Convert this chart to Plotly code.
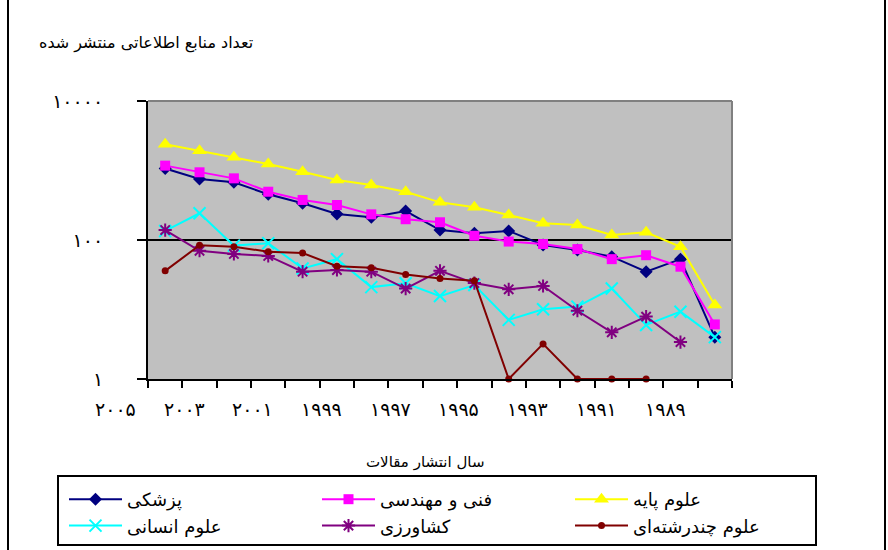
import plotly.graph_objects as go

# ---------------- data ----------------
years = list(range(2005, 1988, -1))          # 17 publication years (2005 ... 1989)
year_labels = ['۲۰۰۵', '۲۰۰۳', '۲۰۰۱', '۱۹۹۹', '۱۹۹۷', '۱۹۹۵', '۱۹۹۳', '۱۹۹۱', '۱۹۸۹']
y_tick_vals = [1, 100, 10000]
y_tick_text = ['۱', '۱۰۰', '۱۰۰۰۰']

medical = [1070, 755, 677, 454, 337, 237, 212, 261, 139, 125, 135, 85, 72, 57.5, 35, 53, 4.0]
engineering = [1175, 942, 771, 495, 377, 319, 234, 199, 180, 115, 95, 87.5, 74, 53, 60.4, 41.3, 6.1]
basic = [2380, 1930, 1550, 1240, 960, 730, 617, 495, 348, 295, 229, 174, 164, 118, 129, 80, 11.6]
humanities = [135, 242, 83, 90, 39, 53, 21, 23.8, 15.6, 22.5, 7.1, 10.1, 11, 20, 6, 9.3, 4.0]
agriculture = [139, 70, 63, 59, 35, 37, 35, 20, 36, 24, 19.5, 21.8, 9.6, 4.7, 7.9, 3.4, None]
multidisciplinary = [36, 84, 80, 68, 65, 42, 40, 32, 28, 26, 1, 3.2, 1, 1, 1, None, None]

names = ['پزشکی', 'فنی و مهندسی', 'علوم پایه', 'علوم انسانی', 'کشاورزی', 'علوم چندرشته‌ای']

# ---------------- helpers ----------------
W, H = 888, 550
FONT = 'DejaVu Sans'
PL, PR, PT, PB = 148, 732, 101, 379   # plot area in pixels


def px(v):
    return v / W


def py(v):
    return 1 - v / H


xi = list(range(len(years)))

series = [
    (medical, names[0], '#000080', dict(symbol='diamond', size=10, color='#000080')),
    (engineering, names[1], '#FF00FF', dict(symbol='square', size=10, color='#FF00FF')),
    (basic, names[2], '#FFFF00', dict(symbol='triangle-up', size=13, color='#FFFF00')),
    (humanities, names[3], '#00FFFF', dict(symbol='x-thin', size=12, color='#00FFFF',
                                         line=dict(color='#00FFFF', width=2))),
    (agriculture, names[4], '#800080', dict(symbol='asterisk', size=11, color='#800080',
                                          line=dict(color='#800080', width=2))),
    (multidisciplinary, names[5], '#800000', dict(symbol='circle', size=7, color='#800000')),
]

fig = go.Figure()
for vals, name, col, mk in series:
    fig.add_trace(go.Scatter(
        x=xi, y=vals, name=name, mode='lines+markers',
        line=dict(color=col, width=2), marker=mk,
        cliponaxis=False, connectgaps=False,
    ))

annotations = []
# category labels (every second year), shifted left as in the original
n = len(years)
for k, lab in enumerate(year_labels):
    cat = 2 * k - 1.45
    xpix = PL + (PR - PL) * (cat + 0.5) / n
    annotations.append(dict(
        x=px(xpix), y=py(409), xref='paper', yref='paper', text=lab, showarrow=False,
        font=dict(family=FONT, size=19, color='black'), xanchor='center', yanchor='middle'))

annotations.append(dict(x=px(146), y=py(43), xref='paper', yref='paper',
                        text='تعداد منابع اطلاعاتی منتشر شده', showarrow=False,
                        xanchor='center', yanchor='middle',
                        font=dict(family=FONT, size=16, color='black')))
annotations.append(dict(x=px(425), y=py(462), xref='paper', yref='paper',
                        text='سال انتشار مقالات', showarrow=False,
                        xanchor='center', yanchor='middle',
                        font=dict(family=FONT, size=15, color='black')))

shapes = [
    # grey top/right plot-area border
    dict(type='line', xref='x domain', yref='y domain', x0=0, x1=1, y0=1, y1=1,
         line=dict(color='#808080', width=2)),
    dict(type='line', xref='x domain', yref='y domain', x0=1, x1=1, y0=0, y1=1,
         line=dict(color='#808080', width=2)),
    # outer frame (vertical sides)
    dict(type='line', xref='paper', yref='paper', x0=px(8), x1=px(8), y0=0, y1=1,
         line=dict(color='black', width=2)),
    dict(type='line', xref='paper', yref='paper', x0=px(885), x1=px(885), y0=0, y1=1,
         line=dict(color='black', width=2)),
    # legend box
    dict(type='rect', xref='paper', yref='paper', x0=px(58), x1=px(816), y0=py(545), y1=py(476),
         line=dict(color='black', width=2), fillcolor='rgba(0,0,0,0)', layer='below'),
]

fig.update_layout(
    template='none',
    width=W, height=H, autosize=False,
    margin=dict(l=0, r=0, t=0, b=0, pad=0, autoexpand=False),
    paper_bgcolor='white', plot_bgcolor='#C0C0C0',
    font=dict(family=FONT, size=14, color='black'),
    xaxis=dict(domain=[px(PL), px(PR)], range=[-0.5, n - 0.5], showgrid=False, zeroline=False,
               automargin=False,
               tickmode='array', tickvals=[i - 0.5 for i in range(n + 1)],
               ticktext=['' for _ in range(n + 1)],
               ticks='outside', ticklen=7, tickwidth=2, tickcolor='black',
               showline=True, linecolor='black', linewidth=2),
    yaxis=dict(domain=[1 - PB / H, 1 - PT / H], type='log', range=[0, 4], automargin=False,
               tickmode='array', tickvals=y_tick_vals, ticktext=y_tick_text,
               ticks='outside', ticklen=9, tickwidth=2, tickcolor='black',
               showgrid=True, gridcolor='black', gridwidth=2, zeroline=False,
               showline=True, linecolor='black', linewidth=2,
               ticklabelstandoff=30, tickfont=dict(family=FONT, size=19)),
    showlegend=True,
    legend=dict(orientation='h', x=px(64), y=py(481), xanchor='left', yanchor='top',
                entrywidth=185, itemwidth=53, traceorder='normal',
                font=dict(family=FONT, size=18), bgcolor='rgba(0,0,0,0)', borderwidth=0),
    annotations=annotations, shapes=shapes,
)

fig.write_html('out.html', config={'displayModeBar': False},
               post_script="document.body.style.margin='0px';")
